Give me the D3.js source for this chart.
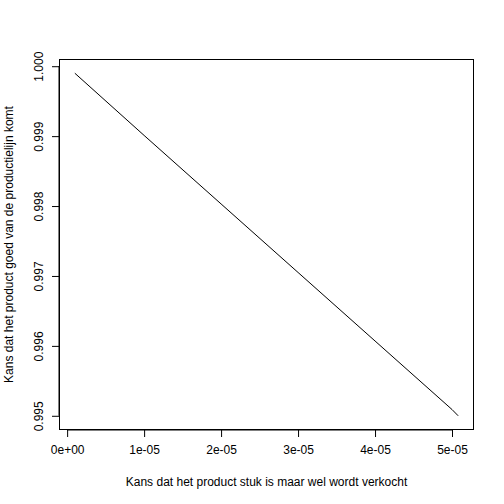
<!DOCTYPE html>
<html><head><meta charset="utf-8">
<script src="https://cdn.jsdelivr.net/npm/d3@7"></script>
<style>body{margin:0;background:#fff}text{font-family:"Liberation Sans",Arial,sans-serif;font-size:12px;fill:#000}</style>
</head><body><svg id="c" width="504" height="504"></svg>
<script>
const xValues = [0.000001, 0.00001, 0.00002, 0.00003, 0.00004, 0.00005, 0.0000508]
const yValues = [0.9999, 0.99901, 0.99803, 0.99705, 0.99607, 0.99509, 0.9950]
const xTicks = [0, 1e-5, 2e-5, 3e-5, 4e-5, 5e-5]
const xTickLabels = ['0e+00', '1e-05', '2e-05', '3e-05', '4e-05', '5e-05']
const yTicks = [0.995, 0.996, 0.997, 0.998, 0.999, 1.000]

const margin = { top: 59.5, right: 30.5, bottom: 74.5, left: 59.5 }
const svg = d3.select('#c')
const w = 504 - margin.left - margin.right
const h = 504 - margin.top - margin.bottom

// R-style 4% padding on both axes
const xr = d3.extent(xValues), yr = d3.extent(yValues)
const px = (xr[1] - xr[0]) * 0.04, py = (yr[1] - yr[0]) * 0.04
const x = d3.scaleLinear().domain([xr[0] - px, xr[1] + px]).range([margin.left, margin.left + w])
const y = d3.scaleLinear().domain([yr[0] - py, yr[1] + py]).range([margin.top + h, margin.top])

svg.append('rect').attr('x', margin.left).attr('y', margin.top)
  .attr('width', w).attr('height', h).attr('fill', 'none').attr('stroke', '#000')

svg.append('g').attr('transform', `translate(0,${margin.top + h + 0.5})`)
  .call(d3.axisBottom(x).tickValues(xTicks).tickSize(7).tickPadding(8).tickFormat((d, i) => xTickLabels[i]))
  .call(g => g.select('.domain').attr('d', `M${x(0)},0H${x(5e-5)}`))
  .selectAll('text').style('font-size', '12px').style('font-family', '"Liberation Sans",Arial,sans-serif')

const ya = svg.append('g').attr('transform', `translate(${margin.left - 0.5},0)`)
  .call(d3.axisLeft(y).tickValues(yTicks).tickSize(7).tickFormat(d3.format('.3f')))
ya.select('.domain').attr('d', `M0,${y(0.995)}V${y(1)}`)
ya.selectAll('text')
  .attr('x', 0).attr('y', 0).attr('dy', '0').attr('text-anchor', 'middle')
  .attr('transform', 'translate(-16,0) rotate(-90)')
  .style('font-size', '12px').style('font-family', '"Liberation Sans",Arial,sans-serif')

svg.append('path').datum(xValues.map((d, i) => [d, yValues[i]]))
  .attr('fill', 'none').attr('stroke', '#000').attr('stroke-width', 1)
  .attr('d', d3.line().x(d => x(d[0])).y(d => y(d[1])))

svg.append('text').attr('x', margin.left + w / 2).attr('y', 486).attr('text-anchor', 'middle')
  .text('Kans dat het product stuk is maar wel wordt verkocht')
svg.append('text').attr('transform', `translate(13,${margin.top + h / 2}) rotate(-90)`).attr('text-anchor', 'middle')
  .text('Kans dat het product goed van de productielijn komt')
</script></body></html>
